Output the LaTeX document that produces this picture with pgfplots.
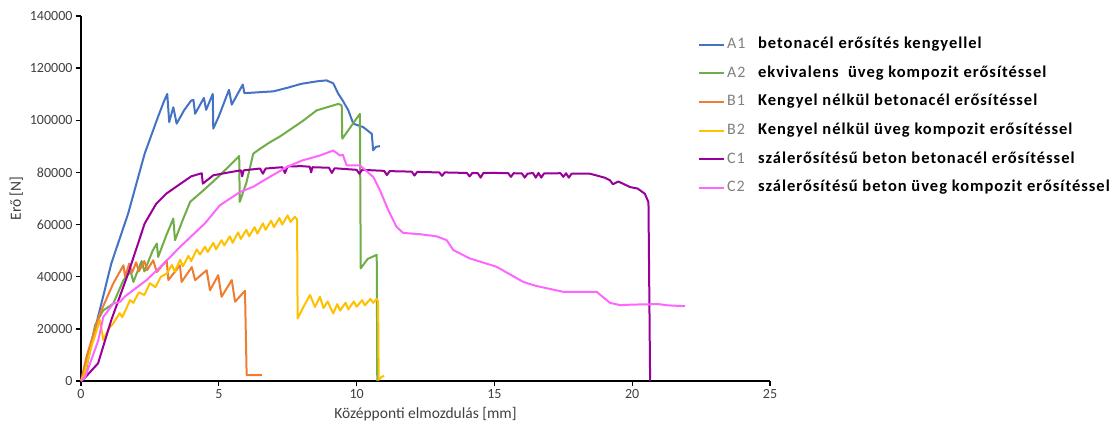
\documentclass[border=0pt]{standalone}
\usepackage{pgfplots}
\pgfplotsset{compat=1.18}
\usepackage{fontspec}
\setmainfont{Carlito}
\newfontfamily\legfont[LetterSpace=6]{Carlito}
\definecolor{cA1}{HTML}{4472C4}
\definecolor{cA2}{HTML}{70AD47}
\definecolor{cB1}{HTML}{ED7D31}
\definecolor{cB2}{HTML}{FFC000}
\definecolor{cC1}{HTML}{990099}
\definecolor{cC2}{HTML}{FF66FF}
\definecolor{txt}{HTML}{404040}
\newcommand{\lab}[1]{\makebox[31pt][l]{\color{gray}\fontsize{16}{18}\selectfont #1}}
\begin{document}
\begin{tikzpicture}
\useasboundingbox (0,0) rectangle (1118pt,432pt);
\begin{axis}[
  at={(81pt,51pt)}, anchor=south west,
  scale only axis, width=689pt, height=365pt,
  xmin=0, xmax=25, ymin=0, ymax=140000,
  xtick={0,5,...,25}, ytick={0,20000,...,140000},
  axis x line=bottom, axis y line=left,
  axis line style={-, black, line width=1.6pt},
  tick style={black, line width=1.3pt},
  tick align=outside, major tick length=5pt,
  scaled y ticks=false,
  /pgf/number format/.cd, fixed, 1000 sep={}, assume math mode=true,
  /pgfplots/.cd,
  ticklabel style={font=\fontsize{14}{16}\selectfont, text=txt},
  xlabel={Középponti elmozdulás [mm]},
  ylabel={Erő [N]},
  label style={font=\fontsize{15.5}{17}\selectfont, text=txt},
  xlabel style={yshift=-2pt},
  clip=false,
  every axis plot/.append style={line width=2pt, line join=round},
  legend image code/.code={\draw[#1] (0pt,0pt) -- (25pt,0pt);},
  legend cell align=left,
  legend style={draw=none, fill=none, at={(rel axis cs:0.891,0.952)}, anchor=north west,
    font=\legfont\fontsize{16.5}{19}\selectfont, row sep=10.6pt,
    nodes={inner sep=2pt, text height=11pt, text depth=3pt}},
]
\addplot[cA1] coordinates {(0.0,0)(0.05,500)(0.3,11000)(0.68,27200)(1.1,45100)(1.71,64200)(2.31,87200)(2.79,101200)(3.0,107000)(3.13,110100)(3.2,99300)(3.35,105000)(3.47,98700)(3.75,104000)(4.0,107600)(4.08,107800)(4.14,102500)(4.46,108600)(4.54,104000)(4.78,110100)(4.8,96800)(5.0,101500)(5.37,111700)(5.47,106000)(5.87,113700)(5.93,110400)(6.98,111100)(7.5,112500)(8.0,114000)(8.6,115000)(8.91,115300)(9.15,114200)(9.34,110100)(9.5,107500)(9.7,103800)(9.88,98700)(10.24,97400)(10.55,94800)(10.6,88500)(10.7,89800)(10.85,90100)};
\addlegendentry{\lab{A1}\textbf{betonacél erősítés kengyellel}}
\addplot[cA2] coordinates {(0,0)(0.2,5000)(0.51,21400)(0.8,27000)(1.17,29700)(1.54,38700)(1.8,42000)(1.9,38000)(2.2,46000)(2.3,42000)(2.6,50000)(2.75,52700)(2.8,47600)(3.1,56000)(3.35,62300)(3.41,54000)(3.7,62000)(3.96,68700)(4.44,73100)(5.0,78500)(5.74,86300)(5.76,68700)(6.0,76000)(6.25,87200)(6.5,89100)(6.86,91600)(7.22,93800)(8.07,99900)(8.55,103800)(9.34,106300)(9.46,105700)(9.48,92900)(10.12,102500)(10.15,43200)(10.4,46800)(10.73,48400)(10.75,0)};
\addlegendentry{\lab{A2}\textbf{ekvivalens \ üveg kompozit erősítéssel}}
\addplot[cB1] coordinates {(0,0)(0.2,9300)(0.45,18000)(0.69,25900)(1.17,37400)(1.54,44400)(1.6,40000)(1.75,45000)(1.85,41500)(2.0,45500)(2.1,42000)(2.3,46000)(2.4,42500)(2.62,46300)(2.75,41800)(3.11,46300)(3.17,38700)(3.59,44400)(3.65,38000)(4.02,43700)(4.14,38700)(4.56,42500)(4.68,34800)(4.98,40600)(5.1,32300)(5.47,38700)(5.59,30400)(5.95,34600)(6.01,2300)(6.56,2300)};
\addlegendentry{\lab{B1}\textbf{Kengyel nélkül betonacél erősítéssel}}
\addplot[cB2] coordinates {(0,0)(0.1,2000)(0.4,14000)(0.69,23400)(0.81,15700)(1.0,20000)(1.17,22100)(1.4,26000)(1.5,24500)(1.78,31000)(1.9,30000)(2.1,34000)(2.3,33000)(2.5,37500)(2.7,36000)(2.9,40000)(3.11,41200)(3.3,44500)(3.4,42000)(3.6,46500)(3.7,44000)(3.9,48000)(4.0,46000)(4.2,50500)(4.32,48500)(4.5,51500)(4.6,49500)(4.8,53000)(4.9,50500)(5.1,54000)(5.2,52000)(5.4,55500)(5.5,53000)(5.7,57000)(5.8,54500)(6.0,58000)(6.1,55500)(6.3,59000)(6.4,56500)(6.6,60500)(6.7,58000)(6.9,61500)(7.0,59000)(7.2,62500)(7.3,60000)(7.5,63500)(7.6,61000)(7.76,63000)(7.84,62000)(7.86,24000)(8.1,29000)(8.31,33000)(8.49,28400)(8.67,32300)(8.8,28000)(8.95,30500)(9.15,25900)(9.3,29500)(9.4,27000)(9.6,30000)(9.7,27500)(9.9,30500)(10.0,28500)(10.2,31000)(10.3,29000)(10.5,31500)(10.6,30000)(10.73,31500)(10.78,30500)(10.8,500)(10.9,1500)(11.0,2000)};
\addlegendentry{\lab{B2}\textbf{Kengyel nélkül üveg kompozit erősítéssel}}
\addplot[cC1] coordinates {(0.0,0)(0.13,1100)(0.62,6800)(1.1,23400)(1.71,41200)(2.31,60400)(2.73,68000)(3.1,71900)(3.52,75000)(4.0,78500)(4.38,79700)(4.42,75700)(4.8,78900)(5.41,80100)(5.8,80800)(5.85,78500)(5.9,80800)(6.5,81500)(6.6,79500)(6.7,81500)(7.3,82000)(7.4,79800)(7.5,82300)(8.0,82400)(8.3,82200)(8.35,80000)(8.4,82000)(9.0,81800)(9.1,79800)(9.2,81600)(10.0,81000)(10.1,79500)(10.2,81000)(11.0,80600)(11.1,79000)(11.2,80500)(12.0,80300)(12.1,78800)(12.2,80200)(13.0,80000)(13.1,78700)(13.2,80000)(14.0,79800)(14.1,78500)(14.2,79800)(14.4,79700)(14.5,78000)(14.6,79800)(15.0,79800)(15.5,79700)(15.6,78300)(15.7,79700)(16.0,79600)(16.1,78000)(16.2,79500)(16.4,79800)(16.5,78000)(16.6,79800)(16.7,78000)(16.8,79600)(17.4,79700)(17.5,78300)(17.6,79700)(17.7,78000)(17.8,79500)(18.47,79500)(19.0,78000)(19.19,77000)(19.3,75500)(19.5,76500)(19.92,74400)(20.2,73800)(20.46,71800)(20.59,68600)(20.65,0)};
\addlegendentry{\lab{C1}\textbf{szálerősítésű beton betonacél erősítéssel}}
\addplot[cC2] coordinates {(0.0,0)(0.15,1500)(0.33,6800)(0.63,15700)(0.81,24600)(1.17,29700)(1.41,30300)(1.6,32500)(2.38,38700)(3.0,45000)(3.59,51400)(4.5,60500)(5.04,67400)(5.77,72500)(6.25,74500)(6.8,78000)(7.46,82000)(8.0,84500)(8.67,86500)(9.15,88400)(9.4,86500)(9.5,86800)(9.64,82700)(10.12,82700)(10.61,78200)(10.85,73100)(11.15,65500)(11.45,59100)(11.69,56800)(12.3,56300)(12.9,55500)(13.27,54000)(13.51,50200)(14.11,47000)(15.08,43800)(16.05,38000)(16.5,36500)(17.5,34200)(18.71,34200)(19.19,30000)(19.56,29100)(20.0,29300)(20.95,29500)(21.3,29000)(21.92,28700)};
\addlegendentry{\lab{C2}\textbf{szálerősítésű beton üveg kompozit erősítéssel}}
\end{axis}
\end{tikzpicture}
\end{document}
